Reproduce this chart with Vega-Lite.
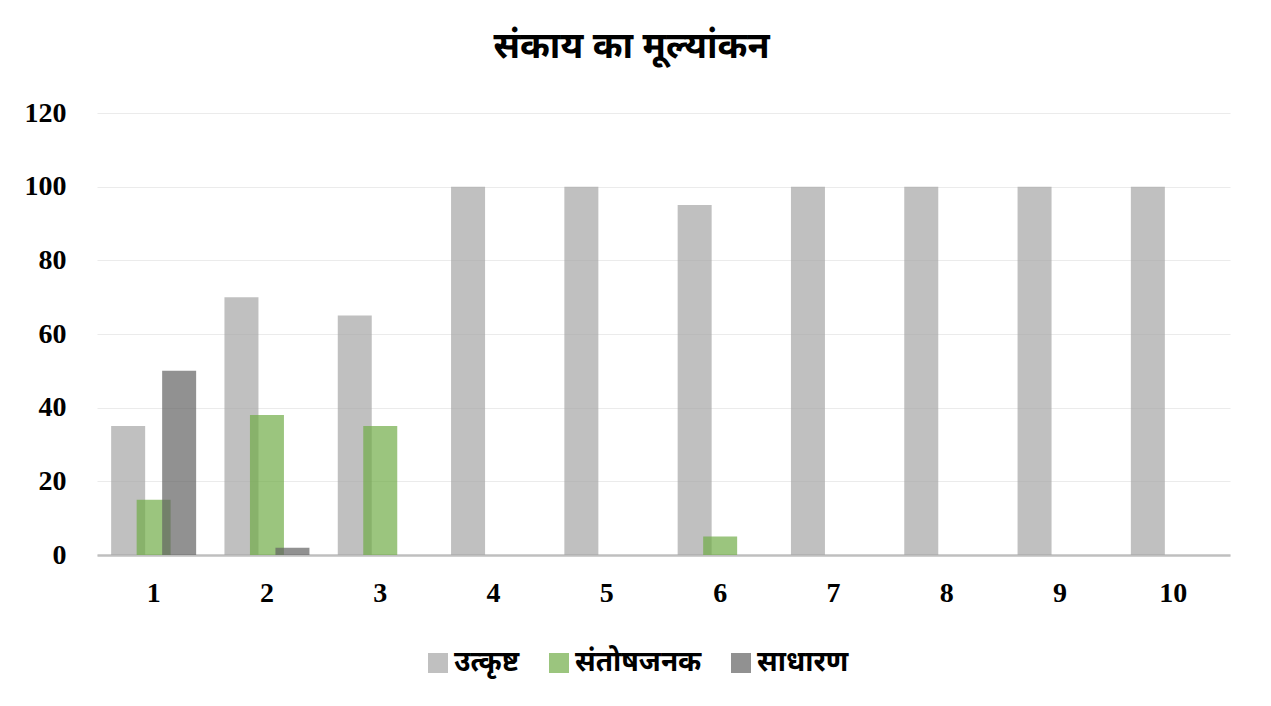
{
  "$schema": "https://vega.github.io/schema/vega-lite/v6.json",
  "width": 1133,
  "height": 442,
  "autosize": {"type": "none"},
  "padding": {"left": 97, "top": 113, "right": 41, "bottom": 151},
  "background": "white",
  "title": {
    "text": "संकाय का मूल्यांकन",
    "fontSize": 36,
    "fontWeight": "bold",
    "font": "Noto Sans",
    "color": "#000000",
    "anchor": "middle",
    "dx": -32,
    "offset": 33
  },
  "data": {
    "values": [
      {"cat": "1", "series": "उत्कृष्ट", "value": 35},
      {"cat": "1", "series": "संतोषजनक", "value": 15},
      {"cat": "1", "series": "साधारण", "value": 50},
      {"cat": "2", "series": "उत्कृष्ट", "value": 70},
      {"cat": "2", "series": "संतोषजनक", "value": 38},
      {"cat": "2", "series": "साधारण", "value": 2},
      {"cat": "3", "series": "उत्कृष्ट", "value": 65},
      {"cat": "3", "series": "संतोषजनक", "value": 35},
      {"cat": "3", "series": "साधारण", "value": 0},
      {"cat": "4", "series": "उत्कृष्ट", "value": 100},
      {"cat": "4", "series": "संतोषजनक", "value": 0},
      {"cat": "4", "series": "साधारण", "value": 0},
      {"cat": "5", "series": "उत्कृष्ट", "value": 100},
      {"cat": "5", "series": "संतोषजनक", "value": 0},
      {"cat": "5", "series": "साधारण", "value": 0},
      {"cat": "6", "series": "उत्कृष्ट", "value": 95},
      {"cat": "6", "series": "संतोषजनक", "value": 5},
      {"cat": "6", "series": "साधारण", "value": 0},
      {"cat": "7", "series": "उत्कृष्ट", "value": 100},
      {"cat": "7", "series": "संतोषजनक", "value": 0},
      {"cat": "7", "series": "साधारण", "value": 0},
      {"cat": "8", "series": "उत्कृष्ट", "value": 100},
      {"cat": "8", "series": "संतोषजनक", "value": 0},
      {"cat": "8", "series": "साधारण", "value": 0},
      {"cat": "9", "series": "उत्कृष्ट", "value": 100},
      {"cat": "9", "series": "संतोषजनक", "value": 0},
      {"cat": "9", "series": "साधारण", "value": 0},
      {"cat": "10", "series": "उत्कृष्ट", "value": 100},
      {"cat": "10", "series": "संतोषजनक", "value": 0},
      {"cat": "10", "series": "साधारण", "value": 0}
    ]
  },
  "mark": {"type": "bar", "width": 34, "opacity": 0.7},
  "encoding": {
    "x": {
      "field": "cat",
      "type": "ordinal",
      "sort": ["1","2","3","4","5","6","7","8","9","10"],
      "scale": {"paddingInner": 0.325, "paddingOuter": 0.1625},
      "axis": {
        "title": null,
        "labelAngle": 0,
        "labelFont": "Liberation Serif",
        "labelFontSize": 28,
        "labelFontWeight": "bold",
        "labelColor": "#000000",
        "labelPadding": 24,
        "ticks": false,
        "domainColor": "#BFBFBF",
        "domainWidth": 2.5,
        "grid": false
      }
    },
    "xOffset": {
      "field": "series",
      "type": "nominal",
      "scale": {"domain": ["उत्कृष्ट", "संतोषजनक", "साधारण"]}
    },
    "y": {
      "field": "value",
      "type": "quantitative",
      "scale": {"domain": [0, 120], "nice": false},
      "axis": {
        "title": null,
        "values": [0, 20, 40, 60, 80, 100, 120],
        "labelFont": "Liberation Serif",
        "labelFontSize": 28,
        "labelFontWeight": "bold",
        "labelColor": "#000000",
        "labelPadding": 31,
        "ticks": false,
        "domain": false,
        "grid": true,
        "gridColor": "#EBEBEB",
        "gridWidth": 1
      }
    },
    "color": {
      "field": "series",
      "type": "nominal",
      "scale": {
        "domain": ["उत्कृष्ट", "संतोषजनक", "साधारण"],
        "range": ["#A5A5A5", "#70AD47", "#636363"]
      },
      "legend": {
        "title": null,
        "orient": "none",
        "legendX": 327,
        "legendY": 536,
        "direction": "horizontal",
        "symbolType": "square",
        "symbolSize": 400,
        "symbolOpacity": 0.7,
        "symbolStrokeWidth": 0,
        "labelFont": "Noto Sans",
        "labelFontSize": 28,
        "labelFontWeight": "bold",
        "labelColor": "#000000",
        "labelLimit": 300,
        "columnPadding": 25,
        "labelOffset": 2
      }
    }
  },
  "config": {
    "view": {"stroke": null}
  }
}
